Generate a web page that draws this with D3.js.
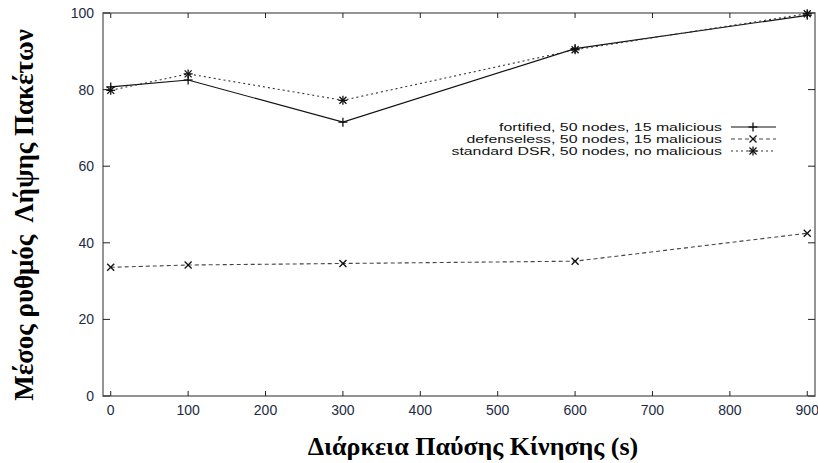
<!DOCTYPE html>
<html>
<head>
<meta charset="utf-8">
<script src="https://cdn.jsdelivr.net/npm/d3@7"></script>
<style>
  html, body { margin: 0; padding: 0; background: #fff; overflow: hidden; }
  svg { display: block; }
</style>
</head>
<body>
<svg id="chart" width="818" height="463"></svg>
<script>
// Pause durations (s) on the x axis
const pauseTimes = [0, 100, 300, 600, 900];

// Packet delivery ratio (%) for each scenario
const fortified = [80.7, 82.5, 71.5, 90.7, 99.4];
const defenseless = [33.6, 34.2, 34.6, 35.2, 42.5];
const standardDSR = [79.8, 84.1, 77.2, 90.4, 99.8];

const seriesNames = [
  "fortified, 50 nodes, 15 malicious",
  "defenseless, 50 nodes, 15 malicious",
  "standard DSR, 50 nodes, no malicious"
];

const xTicks = [0, 100, 200, 300, 400, 500, 600, 700, 800, 900];
const yTicks = [0, 20, 40, 60, 80, 100];

const xTitle = "Διάρκεια Παύσης Κίνησης (s)";
const yTitle = "Μέσος ρυθμός  Λήψης Πακέτων";

const svg = d3.select("#chart");
const plotL = 103, plotR = 815, plotT = 13, plotB = 396;

const x = d3.scaleLinear().domain([-10, 910]).range([plotL, plotR]);
const y = d3.scaleLinear().domain([0, 100]).range([plotB, plotT]);

const labelColor = "#222a44";
const tickFont = "'Liberation Sans', Arial, sans-serif";
const titleFont = "'Liberation Serif', 'Times New Roman', serif";

// Plot frame
svg.append("rect")
  .attr("x", plotL).attr("y", plotT)
  .attr("width", plotR - plotL).attr("height", plotB - plotT)
  .attr("fill", "none").attr("stroke", "#7a7a7a").attr("stroke-width", 1.6);

// Inward ticks on all four sides
const tickG = svg.append("g").attr("stroke", "#222").attr("stroke-width", 1);
xTicks.forEach(t => {
  tickG.append("line").attr("x1", x(t)).attr("x2", x(t)).attr("y1", plotB).attr("y2", plotB - 5);
  tickG.append("line").attr("x1", x(t)).attr("x2", x(t)).attr("y1", plotT).attr("y2", plotT + 5);
});
yTicks.forEach(t => {
  tickG.append("line").attr("x1", plotL).attr("x2", plotL + 7).attr("y1", y(t)).attr("y2", y(t));
  tickG.append("line").attr("x1", plotR).attr("x2", plotR - 7).attr("y1", y(t)).attr("y2", y(t));
});

// Tick labels
svg.append("g").selectAll("text").data(xTicks).join("text")
  .attr("x", d => x(d)).attr("y", 415)
  .attr("text-anchor", "middle")
  .attr("font-family", tickFont).attr("font-size", 14)
  .attr("fill", labelColor)
  .text(d => d);

svg.append("g").selectAll("text").data(yTicks).join("text")
  .attr("x", 94).attr("y", d => y(d) + 5)
  .attr("text-anchor", "end")
  .attr("font-family", tickFont).attr("font-size", 14)
  .attr("fill", labelColor)
  .text(d => d);

// Axis titles
svg.append("text")
  .attr("x", 473).attr("y", 455)
  .attr("text-anchor", "middle")
  .attr("font-family", titleFont)
  .attr("font-weight", "bold").attr("font-size", 26)
  .attr("fill", "#000")
  .text(xTitle);

svg.append("text")
  .attr("transform", "translate(33,215) rotate(-90)")
  .attr("text-anchor", "middle")
  .attr("xml:space", "preserve")
  .style("white-space", "pre")
  .attr("font-family", titleFont)
  .attr("font-weight", "bold").attr("font-size", 27)
  .attr("fill", "#000")
  .text(yTitle);

// Marker shapes
function drawMarker(g, cx, cy, kind) {
  const s = 4.5, d = 3.5;
  const segs = [];
  if (kind === "plus" || kind === "star") {
    segs.push([cx - s, cy, cx + s, cy]);
    segs.push([cx, cy - s, cx, cy + s]);
  }
  if (kind === "cross" || kind === "star") {
    segs.push([cx - d, cy - d, cx + d, cy + d]);
    segs.push([cx - d, cy + d, cx + d, cy - d]);
  }
  segs.forEach(p => g.append("line")
    .attr("x1", p[0]).attr("y1", p[1]).attr("x2", p[2]).attr("y2", p[3])
    .attr("stroke", "#111").attr("stroke-width", 1.3));
}

const series = [
  { name: seriesNames[0], values: fortified, dash: null, marker: "plus", color: "#111", width: 1.2 },
  { name: seriesNames[1], values: defenseless, dash: "4,3", marker: "cross", color: "#444", width: 1.1 },
  { name: seriesNames[2], values: standardDSR, dash: "2,3", marker: "star", color: "#333", width: 1.1 }
];

const line = d3.line().x(d => x(d[0])).y(d => y(d[1]));

series.forEach(s => {
  const pts = pauseTimes.map((t, i) => [t, s.values[i]]);
  svg.append("path")
    .attr("d", line(pts))
    .attr("fill", "none")
    .attr("stroke", s.color)
    .attr("stroke-width", s.width)
    .attr("stroke-dasharray", s.dash);
  const g = svg.append("g");
  pts.forEach(p => drawMarker(g, x(p[0]), y(p[1]), s.marker));
});

// Legend (text is set slightly wide, as in the original plot)
const legendX = 722, legendY = 127, rowH = 12;
series.forEach((s, i) => {
  const ly = legendY + i * rowH;
  svg.append("text")
    .attr("transform", `translate(${legendX},${ly + 4}) scale(1.38,1)`)
    .attr("text-anchor", "end")
    .attr("font-family", tickFont).attr("font-size", 11.5)
    .attr("fill", "#111")
    .text(s.name);
  svg.append("line")
    .attr("x1", 731).attr("x2", 776).attr("y1", ly).attr("y2", ly)
    .attr("stroke", s.color).attr("stroke-width", s.width)
    .attr("stroke-dasharray", s.dash);
  const g = svg.append("g");
  drawMarker(g, 753, ly, s.marker);
});
</script>
</body>
</html>
